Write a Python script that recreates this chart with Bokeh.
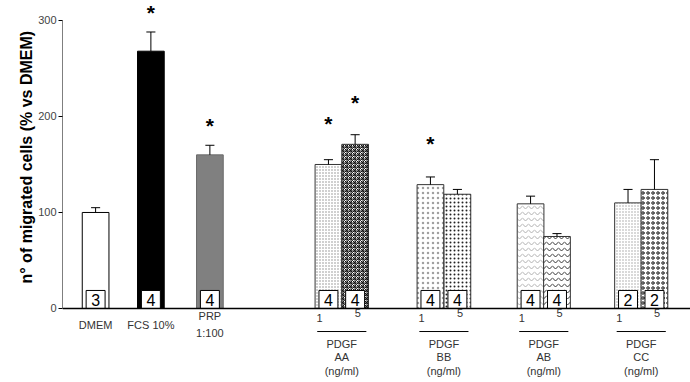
import numpy as np
from bokeh.plotting import figure
from bokeh.models import ColumnDataSource, FixedTicker, Range1d, Title
from bokeh.core.properties import value
from bokeh.embed import file_html
from bokeh.resources import INLINE

# ---- data ----
conditions = ["DMEM", "FCS 10%", "PRP 1:100", "AA 1", "AA 5", "BB 1", "BB 5", "AB 1", "AB 5", "CC 1", "CC 5"]
means = [100, 268, 160, 150, 171, 129, 119, 109, 75, 110, 124]
errors = [5, 20, 10, 5, 10, 8, 5, 8, 3, 14, 31]
n_counts = ["3", "4", "4", "4", "4", "4", "4", "4", "4", "2", "2"]
significant = [False, True, True, True, True, True, False, False, False, False, False]
single_labels = [["DMEM"], ["FCS 10%"], ["PRP", "1:100"]]
pdgf_groups = ["AA", "BB", "AB", "CC"]
doses = ["1", "5"]
y_ticks = [0, 100, 200, 300]
y_label = "n° of migrated cells (% vs DMEM)"

# ---- layout (bar-width units) ----
xpos = [1.24, 3.31, 5.52, 9.96, 10.96, 13.78, 14.79, 17.53, 18.52, 21.18, 22.17]
star_offset = [0, 22, 21, 38, 34, 35, 0, 0, 0, 0, 0]
X_END = 23.52

fills = ["white", "black", "#808080"] + ["white"] * 8
lines = ["black", "black", "#6a6a6a"] + ["#333333"] * 8
hatch_p = [" ", " ", " ", "dot", "criss_cross", "dot", "dot", "horizontal_wave", "horizontal_wave", "dot", "ring"]
hatch_c = ["black", "black", "black", "#8a8a8a", "#111111", "#a0a0a0", "#222222", "#b0b0b0", "#333333", "#a0a0a0", "#111111"]
hatch_s = [8, 8, 8, 3, 4, 5, 4, 6, 6, 3, 5]

FONT = "Liberation Sans"

p = figure(width=690, height=382, output_backend="svg", toolbar_location=None,
           x_range=Range1d(0, X_END), y_range=Range1d(-77.1, 320.8),
           min_border_left=62, min_border_right=0, min_border_top=0, min_border_bottom=0)
p.xaxis.visible = False
p.grid.visible = False
p.outline_line_color = None
p.background_fill_color = "white"

ya = p.yaxis[0]
ya.ticker = FixedTicker(ticks=y_ticks)
ya.axis_line_color = None
ya.major_tick_out = 4
ya.major_tick_in = 0
ya.minor_tick_line_color = None
ya.major_tick_line_color = "black"
ya.major_label_text_font = FONT
ya.major_label_text_font_size = "11px"
ya.major_label_text_color = "#444444"
ya.major_label_standoff = 2

src = ColumnDataSource(dict(
    x=xpos, top=means, err_top=[m + e for m, e in zip(means, errors)],
    fill=fills, line=lines, hp=hatch_p, hc=hatch_c, hs=hatch_s, n=n_counts,
))

p.vbar(x="x", top="top", bottom=0, width=1.0, source=src, fill_color="fill", line_color="line",
       line_width=1, hatch_pattern="hp", hatch_color="hc", hatch_scale="hs", hatch_weight=1)

# error bars (upper only)
p.segment(x0="x", y0="top", x1="x", y1="err_top", source=src, line_color="black", line_width=1)
cap = 0.17
p.segment(x0=[x - cap for x in xpos], y0=src.data["err_top"], x1=[x + cap for x in xpos],
          y1=src.data["err_top"], line_color="black", line_width=1)

# n boxes
p.rect(x="x", y=9.4, width=0.71, height=18.75, source=src, fill_color="white", line_color="black", line_width=1)
p.text(x="x", y=9.0, text="n", source=src, text_font=value(FONT), text_font_size="16px",
       text_align="center", text_baseline="middle", text_color="black")

# stars (top-anchored so the highest one stays inside the canvas)
sx = [x for x, s in zip(xpos, significant) if s]
sy = [min(m + e + o + 11.5, 320) for m, e, o, s in zip(means, errors, star_offset, significant) if s]
p.text(x=sx, y=sy, text=["*"] * len(sx), text_font=value(FONT), text_font_size="21px",
       text_font_style="bold", text_align="center", text_baseline="top", text_color="black")

# axes lines
p.segment(x0=[0], y0=[0], x1=[0], y1=[y_ticks[-1]], line_color="black", line_width=1)
p.segment(x0=[0], y0=[0], x1=[X_END], y1=[0], line_color="black", line_width=1.5)

# category labels
lab_col = "#333333"
for i, lines_ in enumerate(single_labels):
    ys = [-17.7] if len(lines_) == 1 else [-8.3, -26.0]
    p.text(x=[xpos[i]] * len(lines_), y=ys, text=lines_, text_font=value(FONT), text_font_size="11px",
           text_align="center", text_baseline="middle", text_color=lab_col)

for g, name in enumerate(pdgf_groups):
    x1 = xpos[3 + 2 * g]
    x5 = xpos[4 + 2 * g]
    c = (x1 + x5) / 2
    p.text(x=[x1 - 0.33], y=[-9.4], text=[doses[0]], text_font=value(FONT), text_font_size="11px",
           text_align="center", text_baseline="middle", text_color=lab_col)
    p.text(x=[x5 + 0.1], y=[-5.2], text=[doses[1]], text_font=value(FONT), text_font_size="11px",
           text_align="center", text_baseline="middle", text_color=lab_col)
    p.segment(x0=[c - 0.92], y0=[-24], x1=[c + 0.92], y1=[-24], line_color="black", line_width=1)
    p.text(x=[c] * 3, y=[-37.5, -51, -65.6], text=["PDGF", name, "(ng/ml)"], text_font=value(FONT),
           text_font_size="11px", text_align="center", text_baseline="middle", text_color=lab_col)

p.add_layout(Title(text=y_label, align="left", offset=99, text_font=FONT, text_font_size="16px",
                   text_font_style="bold", text_color="black", standoff=2), "left")

open("out.html", "w").write(file_html(p, INLINE))
